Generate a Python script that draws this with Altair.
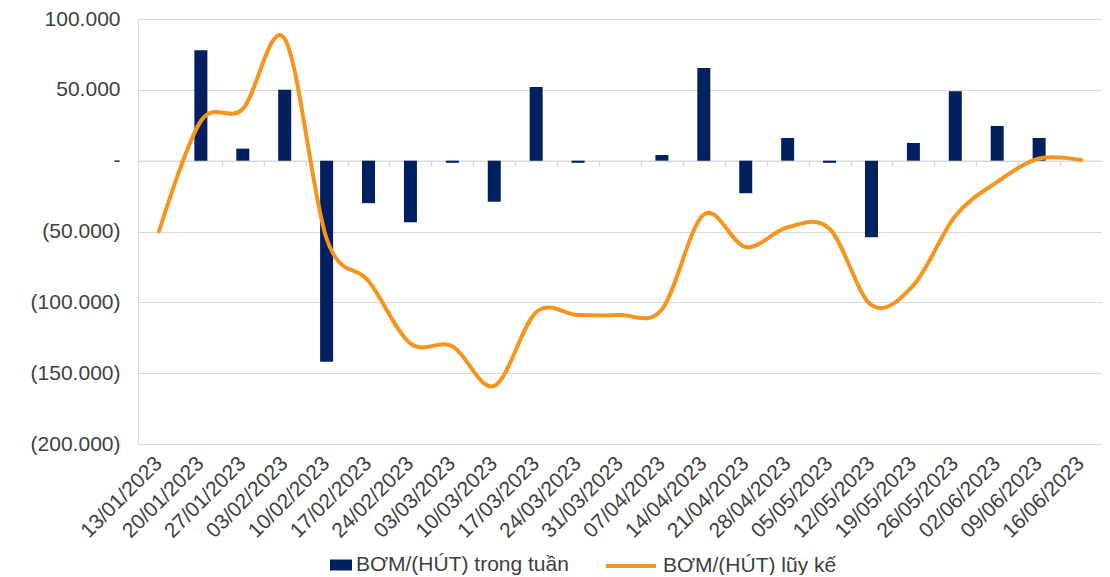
import altair as alt
import pandas as pd

weeks = ["13/01/2023", "20/01/2023", "27/01/2023", "03/02/2023", "10/02/2023",
         "17/02/2023", "24/02/2023", "03/03/2023", "10/03/2023", "17/03/2023",
         "24/03/2023", "31/03/2023", "07/04/2023", "14/04/2023", "21/04/2023",
         "28/04/2023", "05/05/2023", "12/05/2023", "19/05/2023", "26/05/2023",
         "02/06/2023", "09/06/2023", "16/06/2023"]

weekly = [None, 78000, 8500, 50000, -142000,
          -30000, -43500, -1500, -29000, 52000,
          -1500, None, 4000, 65500, -23000,
          16000, -1500, -54000, 12500, 49000,
          24500, 16000, None]

cumulative = [-50000, 28000, 36500, 86000, -55000,
              -85000, -129000, -131000, -159000, -107000,
              -109000, -109000, -105000, -38000, -61000,
              -47000, -48000, -102000, -88000, -39000,
              -15000, 1500, 500]

y_ticks = [-200000, -150000, -100000, -50000, 0, 50000, 100000]

BAR_NAME = "BƠM/(HÚT) trong tuần"
LINE_NAME = "BƠM/(HÚT) lũy kế"

NAVY = "#002060"
ORANGE = "#F7941D"
GRID = "#D9D9D9"
TEXT = "#404040"
FONT = "Liberation Sans"
FS = 21

W, H = 964, 425
TOP = 11

df = pd.DataFrame({"week": weeks, "weekly": weekly, "cumulative": cumulative})

y_label_expr = ("datum.value == 0 ? '-\u00a0' : (datum.value > 0 ? "
                "replace(format(datum.value, ','), ',', '.') + '\u00a0' : "
                "'(' + replace(format(-datum.value, ','), ',', '.') + ')')")

x_scale = alt.Scale(domain=weeks, paddingInner=0, paddingOuter=0)
y_scale = alt.Scale(domain=[-200000, 100000], nice=False, zero=False)

y_axis = alt.Axis(values=y_ticks, labelExpr=y_label_expr, domain=False, ticks=False,
                  grid=True, gridColor=GRID, gridWidth=1.2, labelFont=FONT,
                  labelFontSize=FS, labelColor=TEXT, labelPadding=18, title=None)

bars = alt.Chart(df).transform_filter(
    "isValid(datum.weekly)"
).transform_calculate(
    series=f"'{BAR_NAME}'"
).mark_bar(size=13).encode(
    x=alt.X("week:N", sort=weeks, scale=x_scale,
            axis=alt.Axis(labelAngle=315, labelAlign="right", labelBaseline="middle",
                          labelFont=FONT, labelFontSize=FS, labelColor=TEXT,
                          labelPadding=16, domain=False, ticks=False, grid=False,
                          labelOverlap=False, title=None)),
    y=alt.Y("weekly:Q", scale=y_scale, axis=y_axis),
    color=alt.Color("series:N",
                    scale=alt.Scale(domain=[BAR_NAME], range=[NAVY]),
                    legend=alt.Legend(orient="none", legendX=192, legendY=535,
                                      title=None, padding=0, labelLimit=0,
                                      symbolType="M-1,-0.5H1V0.5H-1Z", symbolSize=484,
                                      symbolStrokeWidth=0,
                                      labelFont=FONT, labelFontSize=FS,
                                      labelColor=TEXT, labelOffset=4)),
)

line = alt.Chart(df).transform_calculate(
    series2=f"'{LINE_NAME}'"
).mark_line(strokeWidth=4, interpolate="cardinal", strokeCap="round").encode(
    x=alt.X("week:N", sort=weeks, scale=x_scale,
            axis=alt.Axis(orient="bottom", offset=-H * 2 / 3, labels=False,
                          domain=True, domainColor=GRID, domainWidth=1.5,
                          ticks=True, tickColor=GRID, tickWidth=1.5, tickSize=5,
                          tickBand="extent", grid=False, title=None)),
    y=alt.Y("cumulative:Q", scale=y_scale, axis=y_axis),
    stroke=alt.Stroke("series2:N",
                      scale=alt.Scale(domain=[LINE_NAME], range=[ORANGE]),
                      legend=alt.Legend(orient="none", legendX=466, legendY=520,
                                        title=None, padding=0, labelLimit=0,
                                        symbolType="stroke", symbolSize=2500,
                                        symbolStrokeWidth=4,
                                        labelFont=FONT, labelFontSize=FS,
                                        labelColor=TEXT, labelOffset=5)),
)

chart = alt.layer(bars, line).resolve_axis(x="independent").properties(
    width=W, height=H,
    autosize=alt.AutoSizeParams(type="none"),
    padding={"left": 130, "top": TOP, "right": 0, "bottom": 131},
).configure_view(stroke=None).configure(background="white")

chart.save("out.html", embed_options={"renderer": "svg", "actions": False})
